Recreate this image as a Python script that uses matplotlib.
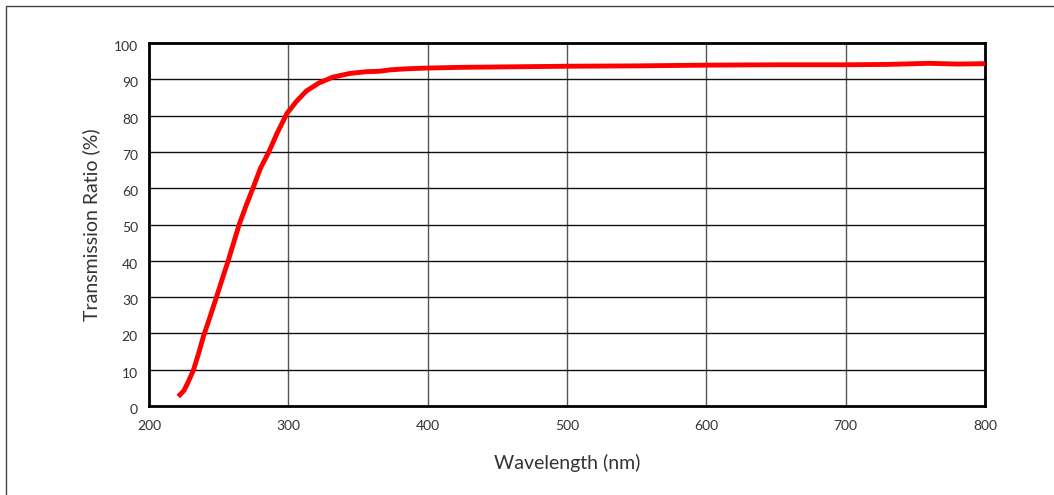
import matplotlib.pyplot as plt
import matplotlib.transforms as mtransforms
from matplotlib.patches import Rectangle

# transmission curve
wavelength = [221, 225, 228, 232, 236, 239, 244, 248.5, 253, 257, 261, 265, 270, 275,
              280, 286, 292, 299, 306, 313, 322, 332, 344, 356, 365, 373, 385,
              400, 425, 450, 500, 550, 600, 650, 700, 730, 760, 780, 800]
transmission = [2.6, 4.2, 6.5, 10.0, 15.0, 19.1, 24.8, 30.1, 35.5, 40.2, 45.3, 50.3,
                55.5, 60.4, 65.5, 70.0, 75.2, 80.6, 84.0, 86.8, 89.0, 90.6, 91.6,
                92.1, 92.2, 92.6, 92.9, 93.1, 93.3, 93.4, 93.6, 93.7, 93.9, 94.0,
                94.0, 94.1, 94.4, 94.2, 94.3]

xticks = [200, 300, 400, 500, 600, 700, 800]
yticks = list(range(0, 101, 10))

plt.rcParams['font.family'] = ['Lato', 'DejaVu Sans']

fig = plt.figure(figsize=(10.54, 4.95), dpi=100)
ax = fig.add_axes([149 / 1054, 1 - 406 / 495, (985 - 149) / 1054, (406 - 43) / 495])

# outer frame of the picture
fig.patches.append(Rectangle((6 / 1054, -0.1), 1.2, 1 - 6 / 495 + 0.1, transform=fig.transFigure,
                             fill=False, edgecolor='#444444', linewidth=1.0))

ax.plot(wavelength, transmission, color='#ff0000', linewidth=3.5, solid_capstyle='butt',
        solid_joinstyle='round', zorder=3)

ax.set_xlim(200, 800)
ax.set_ylim(0, 100)
ax.set_xticks(xticks)
ax.set_yticks(yticks)
for x in xticks[1:-1]:
    ax.axvline(x, color='#555555', linewidth=1.0, zorder=1)
for y in yticks[1:-1]:
    ax.axhline(y, color='#111111', linewidth=1.0, zorder=1)

ax.tick_params(length=0, labelsize=10, colors='#333333', pad=8)
ax.tick_params(axis='x', pad=10)
shift = mtransforms.ScaledTranslation(0, -3 / 100, fig.dpi_scale_trans)
for lab in ax.get_yticklabels():
    lab.set_transform(lab.get_transform() + shift)
for s in ax.spines.values():
    s.set_linewidth(2.0)
    s.set_color('black')

ax.set_xlabel('Wavelength (nm)', fontsize=14, color='#333333', labelpad=16)
ax.set_ylabel('Transmission Ratio (%)', fontsize=14, color='#333333', labelpad=10)

fig.savefig('out.png', dpi=100)
